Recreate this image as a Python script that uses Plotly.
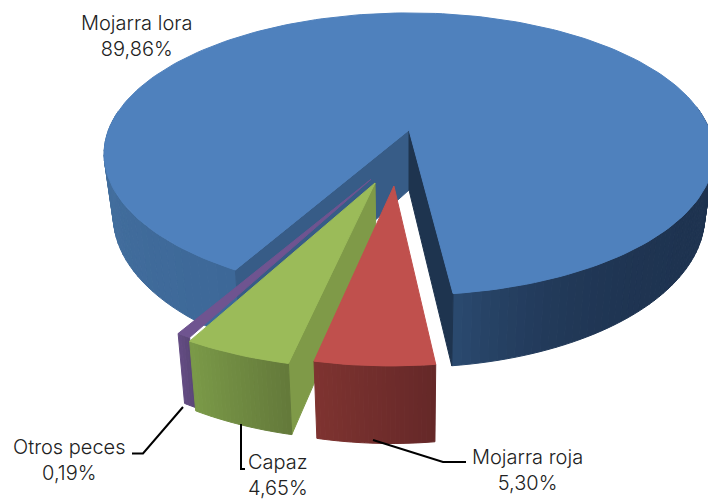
import math
import plotly.graph_objects as go

# ---- data ----
species = ["Mojarra lora", "Mojarra roja", "Capaz", "Otros peces"]
shares = [89.86, 5.30, 4.65, 0.19]

# ---- style ----
top_colors = ["#4f81bd", "#c0504d", "#9bbb59", "#6f5490"]
FONT = "Inter"
W, H = 708, 502
CX, CY, FX, GY, K, DEPTH, SHRINK = 409, 130, 300.5, 137, 0.17, 60, 0.03
START = 209.5            # clockwise from 12 o'clock, where the first slice begins
MIN_SWEEP = 2.2          # very thin slices are drawn at this sweep so they stay visible
# (exploded distance, direction in degrees, radius, wall height) per slice
EXPLODE = [(0, 0, 1.0, 1.0), (0.385, 187, 0.95, 1.0), (0.378, 196.3, 0.98, 0.92), (0.36, 199.4, 0.98, 0.93)]


def proj(ang, r=1.0, z=0.0, off=(0, 0)):
    a = math.radians(ang)
    X = r * math.sin(a) + off[0]
    Y = -r * math.cos(a) + off[1]
    den = 1 - K * Y
    x = CX + FX * X / den * (1 - SHRINK * z)
    y = CY + GY * Y / den + DEPTH * z / den
    return x, y


def mix(c1, c2, t):
    a = [int(c1[i:i + 2], 16) for i in (1, 3, 5)]
    b = [int(c2[i:i + 2], 16) for i in (1, 3, 5)]
    return "rgb(%d,%d,%d)" % tuple(round(p + (q - p) * t) for p, q in zip(a, b))


fig = go.Figure()


def poly(pts, color):
    fig.add_trace(go.Scatter(
        x=[p[0] for p in pts] + [pts[0][0]], y=[p[1] for p in pts] + [pts[0][1]],
        mode="lines", fill="toself", fillcolor=color,
        line=dict(color=color, width=1), hoverinfo="skip", showlegend=False))


def wall(a0, a1, off, r, zb, c0, c1, step=3.0, power=1.0):
    n = max(1, int(abs(a1 - a0) / step))
    for i in range(n):
        s = a0 + (a1 - a0) * i / n
        e = a0 + (a1 - a0) * (i + 1) / n
        poly([proj(s, r, 0, off), proj(e, r, 0, off), proj(e, r, zb, off), proj(s, r, zb, off)],
             mix(c0, c1, ((i + 0.5) / n) ** power))


def radial(ang, off, r, zb, color):
    poly([proj(0, 0, 0, off), proj(ang, r, 0, off), proj(ang, r, zb, off), proj(0, 0, zb, off)], color)


def top(a0, a1, off, r, color):
    n = max(2, int(abs(a1 - a0) / 1.5))
    poly([proj(0, 0, 0, off)] + [proj(a0 + (a1 - a0) * i / n, r, 0, off) for i in range(n + 1)], color)


# angular extents, going clockwise from START and back round to it
sweeps = [max(s * 3.6, MIN_SWEEP) for s in shares]
lora_end = START + shares[0] * 3.6
roja_a0 = lora_end - 360
roja_a1 = roja_a0 + shares[1] * 3.6
capaz_a0 = roja_a1
capaz_a1 = capaz_a0 + shares[2] * 3.6
otros_mid = capaz_a1 + shares[3] * 1.8
otros_a0, otros_a1 = otros_mid - sweeps[3] / 2, otros_mid + sweeps[3] / 2


def off_of(i):
    d, ang = EXPLODE[i][:2]
    a = math.radians(ang)
    return d * math.sin(a), -d * math.cos(a)


# main slice: walls, inner faces, top
wall(START, 278, (0, 0), 1.0, 1.0, "#3d6898", "#44709f", step=2)
wall(80, lora_end - 360, (0, 0), 1.0, 1.0, "#1e3350", "#2b4a70", step=1.5, power=6)
radial(START, (0, 0), 1.0, 1.0, "#375c87")
radial(lora_end - 360, (0, 0), 1.0, 1.0, "#1e344f")
top(START, lora_end, (0, 0), 1.0, top_colors[0])

# Otros peces
o, r, zb = off_of(3), EXPLODE[3][2], EXPLODE[3][3]
wall(otros_a0, otros_a1, o, r, zb, "#5a4677", "#634c82", step=0.5)
top(otros_a0, otros_a1, o, r, top_colors[3])

# Capaz
o, r, zb = off_of(2), EXPLODE[2][2], EXPLODE[2][3]
radial(capaz_a0, o, r, zb, "#7f9a48")
wall(capaz_a0, capaz_a1, o, r, zb, "#63793a", "#7b9a48", step=0.7)
top(capaz_a0, capaz_a1, o, r, top_colors[2])

# Mojarra roja
o, r, zb = off_of(1), EXPLODE[1][2], EXPLODE[1][3]
wall(roja_a0, roja_a1, o, r, zb, "#652828", "#7e3330", step=0.7)
top(roja_a0, roja_a1, o, r, top_colors[1])

# leader lines and labels (layout only)
leaders = [
    [(183, 407), (143, 453.5), (132, 453.5)],
    [(241, 424), (241, 469), (245, 469)],
    [(373, 440), (443, 462), (466, 462)],
]
for pts in leaders:
    fig.add_trace(go.Scatter(x=[p[0] for p in pts], y=[p[1] for p in pts], mode="lines",
                             line=dict(color="#000000", width=2), hoverinfo="skip", showlegend=False))

label_pos = {"Mojarra lora": (136, 36), "Mojarra roja": (527, 470),
             "Capaz": (278, 475), "Otros peces": (69, 460)}
anns = []
for name, val in zip(species, shares):
    x, y = label_pos[name]
    anns.append(dict(x=x, y=y, xref="x", yref="y", showarrow=False,
                     text=f"{name}<br>{val:.2f}%".replace(".", ","),
                     font=dict(family=FONT, size=20, color="#222222", weight=300), align="center"))

fig.update_layout(
    width=W, height=H, margin=dict(l=0, r=0, t=0, b=0),
    paper_bgcolor="white", plot_bgcolor="white", showlegend=False,
    xaxis=dict(range=[0, W], visible=False, fixedrange=True),
    yaxis=dict(range=[H, 0], visible=False, fixedrange=True),
    annotations=anns,
)
fig.write_html("out.html", config={"displayModeBar": False},
               post_script="document.body.style.margin='0';document.documentElement.style.overflow='hidden';")
